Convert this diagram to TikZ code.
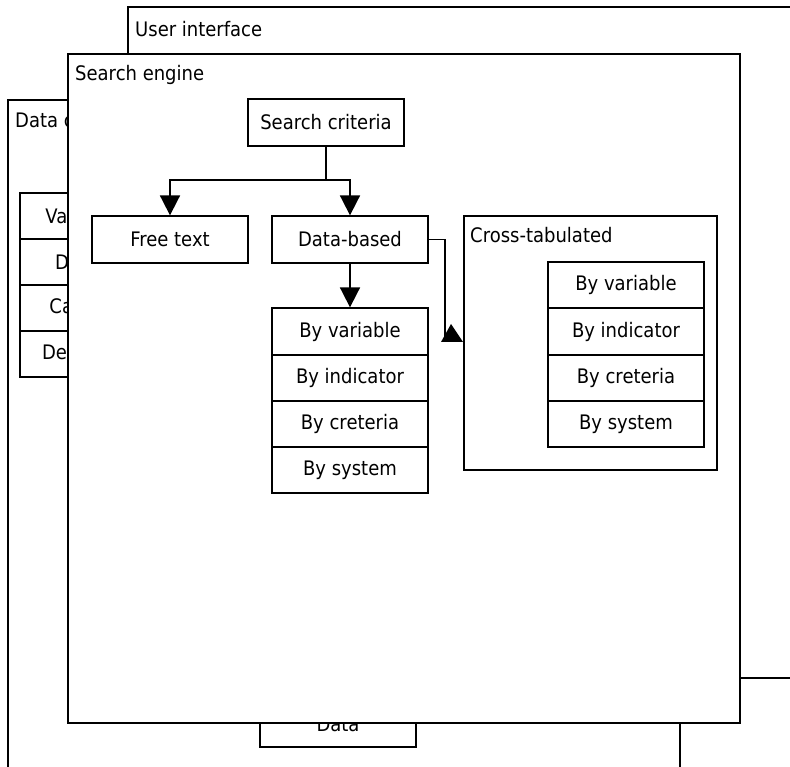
\documentclass[tikz,border=0pt]{standalone}
\usepackage{fontspec}
\setmainfont{DejaVu Sans}[FakeStretch=0.9]
\usetikzlibrary{arrows.meta}
\tikzset{
  frame/.style={draw=black, fill=white, line width=1.8pt},
  box/.style={draw=black, fill=white, line width=1.8pt, rectangle, inner sep=0pt,
    minimum width=156pt, minimum height=46.5pt, font=\fontsize{20}{24}\selectfont},
  lbl/.style={anchor=base west, inner sep=0pt, font=\fontsize{20}{24}\selectfont},
  conn/.style={line width=1.8pt},
  arr/.style={line width=1.8pt, -{Triangle[width=20pt,length=20pt]}}
}
\begin{document}
\begin{tikzpicture}[x=1pt, y=-1pt]
\clip (0,0) rectangle (790,767);
\fill[white] (0,0) rectangle (790,767);
% Data collection layer (back)
\draw[frame] (8,100) rectangle (680,820);
\node[lbl] (dclab) at (15,128) {Data collection};
\node[box] (dl1) at (98,216) {Variable list};
\node[box] (dl2) at (98,262) {Data sets};
\node[box] (dl3) at (98,308) {Categories};
\node[box] (dl4) at (98,354) {Descriptions};
\node[box] (dbot) at (338,724) {Data};
% User interface layer
\draw[frame] (128,7) rectangle (820,678);
\node[lbl] (uilab) at (135,37) {User interface};
% Search engine layer (front)
\draw[frame] (68,54) rectangle (740,723);
\node[lbl] (selab) at (75,80.5) {Search engine};
\node[box] (sc) at (326,122.5) {Search criteria};
\node[box] (ft) at (170,239.5) {Free text};
\node[box] (db) at (350,239.5) {Data-based};
\node[box] (dv1) at (350,331.5) {By variable};
\node[box] (dv2) at (350,378) {By indicator};
\node[box] (dv3) at (350,424) {By creteria};
\node[box] (dv4) at (350,470) {By system};
\draw[frame] (464,216) rectangle (717,470);
\node[lbl] (ctlab) at (470,243) {Cross-tabulated};
\node[box] (cv1) at (626,285) {By variable};
\node[box] (cv2) at (626,331.5) {By indicator};
\node[box] (cv3) at (626,378) {By creteria};
\node[box] (cv4) at (626,424) {By system};
% connectors
\coordinate (j) at (326,180);
\draw[conn] (sc.south) -- (j);
\draw[arr] (j) -| (ft.north);
\draw[arr] (j) -| (db.north);
\draw[arr] (db.south) -- (dv1.north);
\coordinate (ca) at (445,336);
\draw[conn] (db.east) -| (ca);
\fill (441,342) -- (451,324) -- (463,342) -- cycle;
\end{tikzpicture}
\end{document}
